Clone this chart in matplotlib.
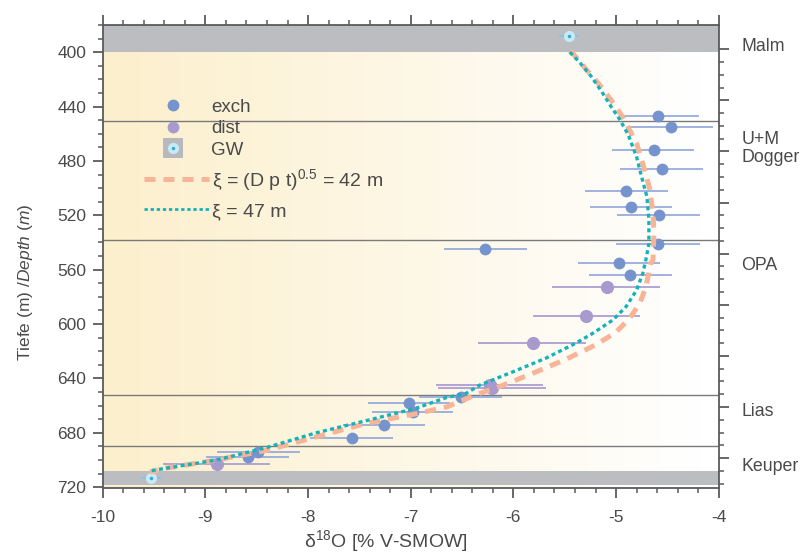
import numpy as np
import matplotlib
matplotlib.use('Agg')
import matplotlib.pyplot as plt
from matplotlib.lines import Line2D
from matplotlib.ticker import MultipleLocator, FixedLocator

plt.rcParams['font.family'] = ['Liberation Sans', 'DejaVu Sans']
plt.rcParams['mathtext.fontset'] = 'custom'
plt.rcParams['mathtext.rm'] = 'Liberation Sans'
plt.rcParams['mathtext.it'] = 'Liberation Sans:italic'
plt.rcParams['axes.unicode_minus'] = False

# exchange samples
exch_depth = [447, 455, 472, 486, 502, 514, 520, 541, 545, 555, 564, 654, 658, 664.5, 674, 684, 694, 698]
exch_d18o  = [-4.59, -4.46, -4.63, -4.55, -4.90, -4.85, -4.58, -4.59, -6.28, -4.97, -4.86, -6.51, -7.02, -6.98, -7.26, -7.57, -8.49, -8.59]
exch_lo    = [-4.93, -4.87, -5.04, -4.96, -5.30, -5.25, -4.99, -5.00, -6.68, -5.37, -5.26, -6.92, -7.42, -7.38, -7.66, -7.98, -8.89, -8.99]
exch_hi    = [-4.19, -4.06, -4.24, -4.15, -4.49, -4.45, -4.18, -4.18, -5.87, -4.57, -4.45, -6.11, -6.62, -6.59, -6.86, -7.17, -8.08, -8.19]

# distillation samples
dist_depth = [573, 594, 614, 645, 647, 703]
dist_d18o  = [-5.09, -5.29, -5.81, -6.23, -6.21, -8.89]
dist_lo    = [-5.62, -5.81, -6.34, -6.75, -6.73, -9.41]
dist_hi    = [-4.57, -4.77, -5.29, -5.71, -5.68, -8.37]

# groundwater
gw_depth = [388, 713]
gw_d18o  = [-5.46, -9.53]
gw_err   = [0.10, 0.10]

# model profiles
m42_d18o  = [-5.45, -5.42, -5.27, -5.16, -5.05, -4.95, -4.87, -4.80, -4.72, -4.67, -4.64, -4.63, -4.64, -4.66,
             -4.71, -4.77, -4.87, -5.00, -5.19, -5.49, -5.74, -6.00, -6.17, -6.33, -6.46, -6.65, -6.95, -7.43,
             -7.92, -8.41, -8.89, -9.38, -9.54]
m42_depth = [399, 401, 414.5, 424, 435, 446, 457, 467, 487, 501, 519, 533, 553, 555,
             573, 585, 596, 606, 615, 626, 634, 642, 647, 651, 655, 661, 666, 673,
             683, 693, 700, 706, 709]
m47_d18o  = [-5.45, -5.36, -5.24, -5.14, -5.04, -4.96, -4.88, -4.80, -4.75, -4.70, -4.68, -4.68, -4.71, -4.74,
             -4.80, -4.90, -5.03, -5.23, -5.39, -5.68, -6.00, -6.33, -6.46, -6.65, -6.95, -7.43, -7.92,
             -8.41, -8.89, -9.38, -9.54]
m47_depth = [400, 407, 418, 429, 441, 450, 461, 477, 492, 506, 523, 541, 553, 563,
             575, 587, 597, 607, 614, 625, 635, 645, 651, 654, 662, 671, 680,
             691, 700, 706, 708]

boundaries = [451, 538, 652, 690]
gray_bands = [(380, 400), (708, 718.5)]
units       = ['Malm', 'U+M\nDogger', 'OPA', 'Lias', 'Keuper']
units_depth = [396, 471, 556.6, 664.7, 705]

txt = '#4a4a4a'
spine_c = '#5a5a5a'

fig = plt.figure(figsize=(8.03, 5.55), dpi=100)
ax = fig.add_axes([0.128, 0.121, 0.767, 0.834])

ax.set_xlim(-10, -4)
ax.set_ylim(720.5, 380)

# background gradient
grad = np.linspace(0, 1, 256)
c0 = np.array([252, 239, 204]) / 255.
c1 = np.array([255, 255, 255]) / 255.
img = c0[None, :] + (c1 - c0)[None, :] * np.clip(grad / 0.97, 0, 1)[:, None]
ax.imshow(img[None, :, :], extent=(-10, -4, 720.5, 380), aspect='auto', zorder=0)

for top, bot in gray_bands:
    ax.axhspan(top, bot, color='#bcbdc1', lw=0, zorder=1)
for d in boundaries:
    ax.axhline(d, color='#7a7a7a', lw=1.0, zorder=1)

ax.errorbar(exch_d18o, exch_depth,
            xerr=(np.array(exch_d18o) - np.array(exch_lo), np.array(exch_hi) - np.array(exch_d18o)),
            fmt='o', color='#7593cc', ecolor='#97acdc', elinewidth=1.3, capsize=0, markersize=8.5,
            markeredgewidth=0, zorder=3)
ax.errorbar(dist_d18o, dist_depth,
            xerr=(np.array(dist_d18o) - np.array(dist_lo), np.array(dist_hi) - np.array(dist_d18o)),
            fmt='o', color='#a99ace', ecolor='#ab9fd2', elinewidth=1.3, capsize=0, markersize=9.5,
            markeredgewidth=0, zorder=3)
ax.errorbar(gw_d18o, gw_depth, xerr=gw_err, fmt='none', ecolor='#7fc6e6', elinewidth=1.2, zorder=3)
ax.plot(gw_d18o, gw_depth, 'o', color='#c6ebf7', markersize=8, markeredgewidth=0, zorder=4)
ax.plot(gw_d18o, gw_depth, 'o', color='#2fa9da', markersize=2.5, markeredgewidth=0, zorder=5)

ax.plot(m42_d18o, m42_depth, color='#f7b496', lw=3.6, dashes=(2.2, 1.6), zorder=4)
ax.plot(m47_d18o, m47_depth, color='#14b3bb', lw=2.4, dashes=(1.2, 1.0), zorder=5)

# axes styling
for s in ax.spines.values():
    s.set_color(spine_c)
    s.set_linewidth(1.3)
    s.set_zorder(6)
ax.xaxis.set_major_locator(MultipleLocator(1))
ax.xaxis.set_minor_locator(MultipleLocator(0.2))
ax.yaxis.set_major_locator(MultipleLocator(40))
ax.yaxis.set_minor_locator(MultipleLocator(10))
ax.set_yticks(np.arange(400, 721, 40))
ax.tick_params(axis='both', which='major', direction='out', length=7, width=1.3, color=spine_c,
               labelsize=12.5, labelcolor=txt, top=True, right=False)
ax.tick_params(axis='both', which='minor', direction='out', length=3.5, width=1.1, color=spine_c,
               top=True, right=False)
ax.tick_params(axis='x', pad=9)
ax.tick_params(axis='y', pad=5)

# right-hand scale
ax2 = ax.twinx()
ax2.set_ylim(720.5, 380)
ax2.yaxis.set_major_locator(FixedLocator(np.arange(397.8, 720, 37.6)))
ax2.yaxis.set_minor_locator(FixedLocator(np.arange(397.8, 720, 9.4)))
ax2.tick_params(axis='y', which='major', direction='out', length=7, width=1.3, color=spine_c, labelright=False)
ax2.tick_params(axis='y', which='minor', direction='out', length=3.5, width=1.1, color=spine_c)
for s in ax2.spines.values():
    s.set_visible(False)

for name, d in zip(units, units_depth):
    ax.text(1.037, d, name, transform=ax.get_yaxis_transform(), ha='left', va='center',
            fontsize=12.8, color=txt, linespacing=1.1)

ax.set_xlabel('δ$^{18}$O [% V-SMOW]', fontsize=14, color=txt)
ax.xaxis.set_label_coords(0.46, -0.088)
ax.set_ylabel(r'Tiefe (m) /$\it{Depth\ (m)}$', fontsize=12.5, color=txt)
ax.yaxis.set_label_coords(-0.11, 0.445)

# legends
h_exch = Line2D([], [], ls='none', marker='o', color='#7593cc', markersize=8.5, markeredgewidth=0)
h_dist = Line2D([], [], ls='none', marker='o', color='#a99ace', markersize=8.5, markeredgewidth=0)
h_gw = (Line2D([], [], ls='none', marker='s', color='#b8b9bd', markersize=15, markeredgewidth=0),
        Line2D([], [], ls='none', marker='o', color='#c6ebf7', markersize=8, markeredgewidth=0),
        Line2D([], [], ls='none', marker='o', color='#2fa9da', markersize=2.5, markeredgewidth=0))
leg1 = ax.legend([h_exch, h_dist, h_gw], ['exch', 'dist', 'GW'], loc='upper left',
                 bbox_to_anchor=(0.048, 0.857), frameon=False, fontsize=13.5, handlelength=3.5,
                 handletextpad=0.3, labelspacing=0.24, labelcolor=txt, borderaxespad=0)
ax.add_artist(leg1)
h_42 = Line2D([], [], color='#f7b496', lw=3.6, dashes=(2.2, 1.6))
h_47 = Line2D([], [], color='#14b3bb', lw=2.0, dashes=(1.2, 1.0))
ax.legend([h_42, h_47], [r'ξ = (D p t)$^{0.5}$ = 42 m', 'ξ = 47 m'], loc='upper left',
          bbox_to_anchor=(0.055, 0.71), frameon=False, fontsize=14, handlelength=3.3,
          handletextpad=0.15, labelspacing=0.5, labelcolor=txt, borderaxespad=0)

fig.savefig('out.png', dpi=100)
